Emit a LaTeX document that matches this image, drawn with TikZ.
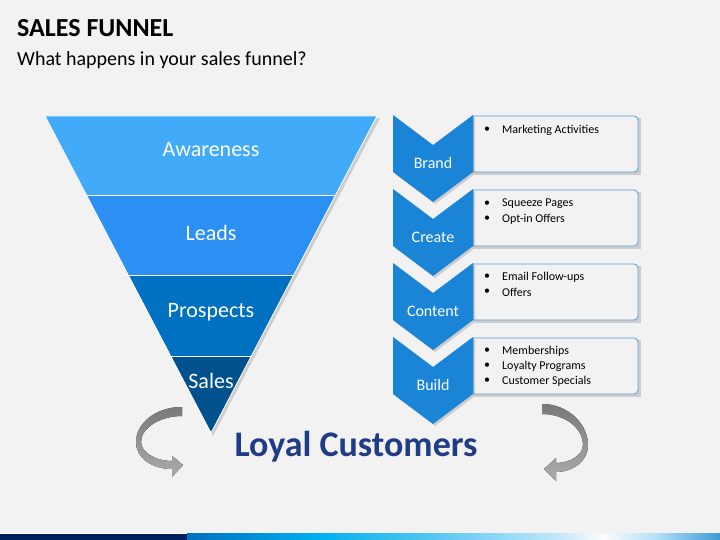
\documentclass[tikz,border=0pt]{standalone}
\usepackage{fontspec}
\setmainfont{Carlito}
\definecolor{bg}{HTML}{F2F2F2}
\definecolor{fA}{HTML}{41ABFA}
\definecolor{fB}{HTML}{2B8FF3}
\definecolor{fC}{HTML}{0070C0}
\definecolor{fD}{HTML}{00518E}
\definecolor{chev}{HTML}{1A85D6}
\definecolor{boxline}{HTML}{5B9BD5}
\definecolor{loyal}{HTML}{1F3C86}
\definecolor{navy}{HTML}{002060}
\definecolor{b0}{HTML}{0070C0}
\definecolor{b1}{HTML}{00B0F0}
\definecolor{b2}{HTML}{4FC6F2}
\definecolor{b3}{HTML}{C5E8F8}
\definecolor{b4}{HTML}{FCFCFC}
\definecolor{b5}{HTML}{B4E0F6}
\definecolor{b6}{HTML}{3A9AD8}
\pgfdeclarehorizontalshading{barshade}{100bp}{color(0bp)=(b0); color(25bp)=(b0); color(37.5bp)=(b1); color(47.5bp)=(b2); color(60bp)=(b3); color(64bp)=(b4); color(69bp)=(b5); color(75bp)=(b6); color(100bp)=(b6)}
\tikzset{
  funlabel/.style={text=white, font=\fontsize{22}{26}\selectfont, inner sep=0pt},
  chevshape/.style={fill=chev},
  chevlabel/.style={text=white, font=\fontsize{16}{19}\selectfont, inner sep=0pt},
  boxst/.style={fill=bg, draw=boxline, line width=0.8pt},
  shadowst/.style={fill=black, opacity=0.15},
  bul/.style={font=\fontsize{12}{14}\selectfont, inner sep=0pt, anchor=west},
  arrowfill/.style={top color=gray!95!black, bottom color=gray!65}
}
\begin{document}
\begin{tikzpicture}[x=1pt,y=-1pt]
\useasboundingbox (0,0) rectangle (720,540);
\fill[bg] (0,0) rectangle (720,540);

% titles
\node[anchor=base west, inner sep=0pt, font=\fontsize{26}{30}\selectfont\bfseries] (title) at (17,37) {SALES FUNNEL};
\node[anchor=base west, inner sep=0pt, font=\fontsize{20}{24}\selectfont] (subtitle) at (17,65.5) {What happens in your sales funnel?};

% funnel
\fill[shadowst] (47,118) -- (380,118) -- (213,436) -- cycle;
\fill[fA] (45,116) -- (377,116) -- (335.6,195) -- (86.4,195) -- cycle;
\fill[fB] (86.4,195) -- (335.6,195) -- (293.7,275) -- (128.3,275) -- cycle;
\fill[fC] (128.3,275) -- (293.7,275) -- (251.3,356) -- (170.7,356) -- cycle;
\fill[fD] (170.7,356) -- (251.3,356) -- (211,433) -- cycle;
\draw[white, line width=0.8pt] (45,116) -- (377,116) -- (211,433) -- cycle;
\draw[white, line width=0.8pt] (86.4,195) -- (335.6,195);
\draw[white, line width=0.8pt] (128.3,275) -- (293.7,275);
\draw[white, line width=0.8pt] (170.7,356) -- (251.3,356);
\node[funlabel] (awareness) at (211,150) {Awareness};
\node[funlabel] (leads) at (211,233) {Leads};
\node[funlabel] (prospects) at (211,312) {Prospects};
\node[funlabel] (sales) at (211,381) {Sales};

% chevrons and boxes
\foreach \T/\lab/\nm in {115/Brand/brand, 189/Create/create, 263/Content/content, 337/Build/build}{
  \fill[shadowst] (475,\T+3) -- (641,\T+3) -- (641,\T+60) -- (475,\T+60) -- cycle;
  \draw[boxst] (473,\T+1) -- (634,\T+1) arc[start angle=-90, end angle=0, radius=4] -- (638,\T+53) arc[start angle=0, end angle=90, radius=4] -- (473,\T+57) -- cycle;
  \fill[shadowst] (395,\T+2) -- (435,\T+32) -- (475,\T+2) -- (475,\T+59) -- (435,\T+89) -- (395,\T+59) -- cycle;
  \fill[chevshape] (393,\T) -- (433,\T+30) -- (473,\T) -- (473,\T+57) -- (433,\T+87) -- (393,\T+57) -- cycle;
  \node[chevlabel] (\nm) at (433,\T+48) {\lab};
}

% bullets
\node[bul] (d1) at (484,130) {•};
\node[bul] (t1) at (502,130) {Marketing Activities};
\node[bul] (d2) at (484,204) {•};
\node[bul] (t2) at (502,204) {Squeeze Pages};
\node[bul] (d3) at (484,219) {•};
\node[bul] (t3) at (502,219) {Opt-in Offers};
\node[bul] (d4) at (484,277) {•};
\node[bul] (t4) at (502,277) {Email Follow-ups};
\node[bul] (d5) at (484,292) {•};
\node[bul] (t5) at (502,292) {Offers};
\node[bul] (d6) at (484,351) {•};
\node[bul] (t6) at (502,351) {Memberships};
\node[bul] (d7) at (484,366) {•};
\node[bul] (t7) at (502,366) {Loyalty Programs};
\node[bul] (d8) at (484,381) {•};
\node[bul] (t8) at (502,381) {Customer Specials};

% loyal customers
\node[text=loyal, font=\fontsize{36}{40}\selectfont\bfseries, inner sep=0pt] (loyal) at (356,447) {Loyal Customers};

% curved arrows
\fill[arrowfill] (182,407) .. controls (155,407) and (136,424) .. (136,442) .. controls (136,458) and (152,469) .. (172,469) -- (172,477) -- (183,465) -- (172,456) -- (172,461) .. controls (155,461) and (141,452) .. (141,442) .. controls (141,428) and (160,416) .. (182,416) -- cycle;
\fill[arrowfill] (542,404) .. controls (568,404) and (588,424) .. (588,445) .. controls (588,462) and (572,472) .. (556,472) -- (556,481) -- (544,469) -- (556,458) -- (556,463) .. controls (570,463) and (583,455) .. (583,445) .. controls (583,428) and (565,414) .. (542,414) -- cycle;

% bottom bar
\fill[white] (0,532.5) rectangle (720,533.5);
\fill[navy] (0,533.5) rectangle (187,540);
\fill[shading=barshade] (187,533.5) rectangle (720,540);
\end{tikzpicture}
\end{document}
